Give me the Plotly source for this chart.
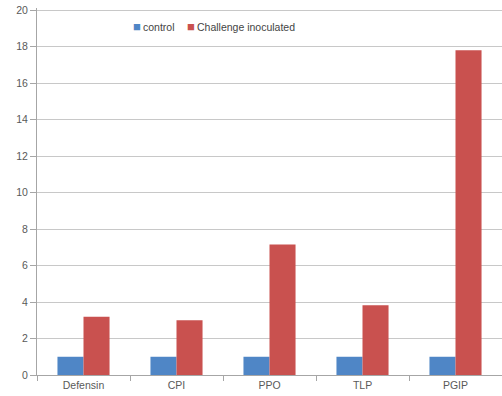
import plotly.graph_objects as go

categories = ["Defensin", "CPI", "PPO", "TLP", "PGIP"]
control = [1, 1, 1, 1, 1]
challenge = [3.2, 3.0, 7.15, 3.82, 17.8]
y_ticks = [0, 2, 4, 6, 8, 10, 12, 14, 16, 18, 20]
series_names = ["control", "Challenge inoculated"]
colors = ["#4F86C6", "#C9514F"]

fig = go.Figure()
fig.add_trace(go.Bar(x=categories, y=control, name=series_names[0],
                     marker=dict(color=colors[0], line=dict(width=0))))
fig.add_trace(go.Bar(x=categories, y=challenge, name=series_names[1],
                     marker=dict(color=colors[1], line=dict(width=0))))

font_family = "Liberation Sans, Arial, sans-serif"
legend_x = [0.203, 0.318]
for name, col, lx in zip(series_names, colors, legend_x):
    fig.add_annotation(xref="paper", yref="paper", x=lx, y=0.95,
                       xanchor="left", yanchor="middle", showarrow=False,
                       text=f"<span style='color:{col};font-size:13px'>■</span>\u2009{name}",
                       font=dict(size=10.5, color="#444444", family=font_family))

fig.update_layout(
    width=502, height=396,
    margin=dict(l=37, r=0, t=8, b=21),
    paper_bgcolor="white", plot_bgcolor="white",
    barmode="group", bargap=0.44, bargroupgap=0,
    font=dict(family=font_family, size=10.5, color="#595959"),
    showlegend=False,
    xaxis=dict(showline=True, linecolor="#A6A6A6", linewidth=1,
               ticks="outside", tickcolor="#A6A6A6", ticklen=5,
               tickson="boundaries", showgrid=False,
               tickfont=dict(size=10.5, color="#595959")),
    yaxis=dict(range=[0, 20.12], tickvals=y_ticks, showline=True, linecolor="#A6A6A6",
               linewidth=1, ticks="outside", tickcolor="#A6A6A6", ticklen=6,
               showgrid=True, gridcolor="#C8C8C8", gridwidth=1, zeroline=False,
               tickfont=dict(size=10.5, color="#595959")),
)
fig.write_html("out.html")
